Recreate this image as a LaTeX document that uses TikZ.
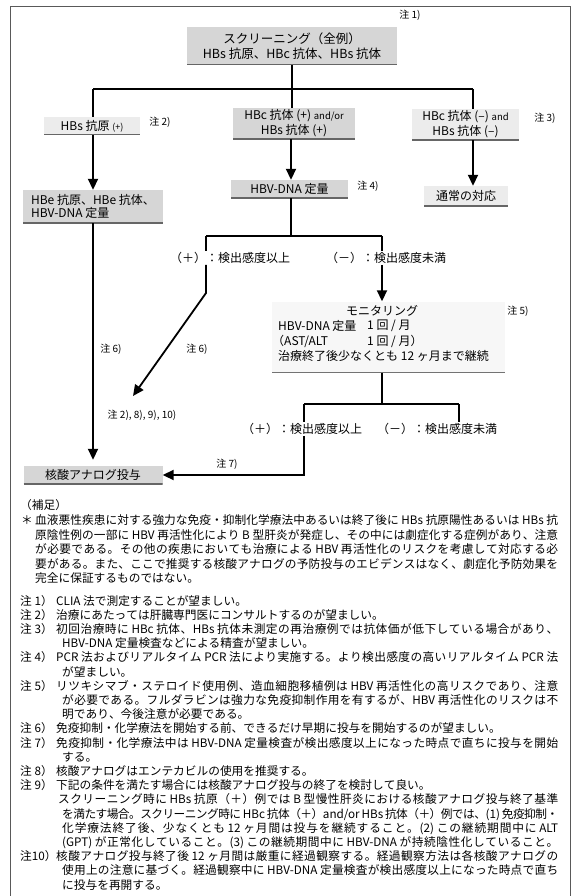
\documentclass[tikz,border=0pt]{standalone}
\usepackage{fontspec}
\setmainfont{Noto Sans CJK JP}
\usetikzlibrary{arrows.meta}
\newcount\cjkc
\def\setcjkclass#1#2{\cjkc=#1 \loop \XeTeXcharclass\cjkc=1 \ifnum\cjkc<#2 \advance\cjkc by 1 \repeat}
\setcjkclass{"3000}{"30FF}
\setcjkclass{"4E00}{"9FFF}
\setcjkclass{"FF00}{"FFEF}
\XeTeXinterchartoks 1 1 = {\hskip 0pt plus 1fil minus .6pt}
\XeTeXinterchartoks 0 1 = {\hskip 0pt plus 1fil minus .3pt}
\XeTeXinterchartoks 1 0 = {\hskip 0pt plus 1fil minus .3pt}
\newcommand\jline[4]{\node[txt, anchor=base west] (#1) at (#2,#3) {\hbox to \dimexpr 558pt-#2pt\relax{#4}};}
\newcommand\fline[4]{\node[txt, anchor=base west] (#1) at (#2,#3) {#4};}
\begin{document}
\begin{tikzpicture}[x=1pt,y=-1pt,
  fb/.style={fill=gray!32, inner sep=2pt, font=\fontsize{12}{15}\selectfont, align=center,
    path picture={\draw[black!60, line width=2.4pt] (path picture bounding box.south west) -- (path picture bounding box.south east);}},
  lb/.style={fb, fill=gray!15},
  ln/.style={line width=1.8pt},
  arr/.style={ln, -{Triangle[width=10pt,length=11pt]}},
  nt/.style={font=\fontsize{10}{12}\selectfont, inner sep=0pt},
  lab/.style={font=\fontsize{12}{15}\selectfont, inner sep=1pt},
  txt/.style={font=\fontsize{11.7}{14}\selectfont, inner sep=0pt,
    execute at begin node={\XeTeXinterchartokenstate=1 }}
]
\useasboundingbox (0,0) rectangle (571,896);
\fill[white] (0,0) rectangle (571,896);
\draw[black!65, line width=1pt] (10,896) -- (10,7) -- (570,7) -- (570,896);

% boxes
\node[fb, minimum width=210pt, minimum height=38pt, font=\fontsize{12.5}{15.5}\selectfont] (top) at (292,46) {スクリーニング（全例）\\HBs 抗原、HBc 抗体、HBs 抗体};
\node[nt] (n1) at (410,15) {注 1)};
\node[lb, minimum width=96pt, minimum height=18pt] (hbsag) at (92,126) {HBs 抗原 {\fontsize{9}{10}\selectfont (+)}};
\node[nt] (n2) at (160,122) {注 2)};
\node[fb, minimum width=122pt, minimum height=29pt] (mid) at (294,123.5) {HBc 抗体 (+) {\fontsize{9.5}{10}\selectfont and/or}\\HBs 抗体 (+)};
\node[lb, minimum width=107pt, minimum height=31pt] (neg) at (465.5,124.5) {HBc 抗体 (–) {\fontsize{9.5}{10}\selectfont and}\\HBs 抗体 (–)};
\node[nt] (n3) at (545,118) {注 3)};
\node[fb, minimum width=140pt, minimum height=33pt, align=left, font=\fontsize{12}{13.5}\selectfont] (hbe) at (93,206.5) {HBe 抗原、HBe 抗体、\\HBV-DNA 定量};
\node[fb, minimum width=117pt, minimum height=18pt] (dna) at (289.5,189) {HBV-DNA 定量};
\node[nt] (n4) at (368,186) {注 4)};
\node[lb, minimum width=84pt, minimum height=20pt] (usual) at (466,196) {通常の対応};
\node[fb, minimum width=139pt, minimum height=18pt] (nuc) at (93,475) {核酸アナログ投与};

% monitoring block
\node[fill=gray!6, minimum width=233pt, minimum height=71pt, inner sep=0pt,
  path picture={\draw[black!55, line width=2pt] (path picture bounding box.south west) -- (path picture bounding box.south east);}] (mon) at (388.5,337) {};
\node[lab] (mtitle) at (382,311) {モニタリング};
\node[lab, anchor=west] (m1a) at (277,326) {HBV-DNA 定量};
\node[lab, anchor=west] (m1b) at (366,326) {1 回 / 月};
\node[lab, anchor=west] (m2a) at (271,341) {（AST/ALT};
\node[lab, anchor=west] (m2b) at (366,341) {1 回 / 月）};
\node[lab, anchor=west] (m3) at (277,356) {治療終了後少なくとも 12 ヶ月まで継続};
\node[nt] (n5) at (518,311) {注 5)};

% branch labels
\node[lab] (pos1) at (230,258) {（＋）：検出感度以上};
\node[lab] (neg1) at (386,258) {（－）：検出感度未満};
\node[lab] (pos2) at (302,429) {（＋）：検出感度以上};
\node[lab] (neg2) at (437,429) {（－）：検出感度未満};
\node[nt] (n6a) at (111,349) {注 6)};
\node[nt] (n6b) at (197,349) {注 6)};
\node[nt] (n2x) at (142,415) {注 2), 8), 9), 10)};
\node[nt] (n7) at (227,464) {注 7)};

% junction coordinates
\coordinate (j0) at (292,89);
\coordinate (j1) at (93,89);
\coordinate (j3) at (473,89);
\coordinate (j4) at (291,236);
\coordinate (j5) at (206,236);
\coordinate (j6) at (382,236);
\coordinate (j7) at (206,293);
\coordinate (t1) at (133,396);
\coordinate (j8) at (382,404);
\coordinate (j9) at (304,404);
\coordinate (j10) at (459,404);
\coordinate (j11) at (304,475);

% connectors
\draw[ln] (top.south -| j0) -- (j0);
\draw[ln] (j1) -- (j3);
\draw[ln] (j1) -- (j1 |- hbsag.north);
\draw[ln] (j0) -- (j0 |- mid.north);
\draw[ln] (j3) -- (j3 |- neg.north);
\draw[arr] (j1 |- hbsag.south) -- (j1 |- hbe.north);
\draw[arr] (mid.south -| j4) -- (dna.north -| j4);
\draw[arr] (j3 |- neg.south) -- (j3 |- usual.north);
\draw[ln] (dna.south -| j4) -- (j4);
\draw[ln] (j5) -- (j6);
\draw[ln] (j5) -- (j5 |- pos1.north);
\draw[ln] (j6) -- (j6 |- neg1.north);
\draw[arr] (j5 |- pos1.south) -- (j7) -- (t1);
\draw[arr] (j6 |- neg1.south) -- (j6 |- mon.north);
\draw[ln] (mon.south -| j8) -- (j8);
\draw[ln] (j9) -- (j10);
\draw[ln] (j9) -- (j9 |- pos2.north);
\draw[ln] (j10) -- (j10 |- neg2.north);
\draw[arr] (j9 |- pos2.south) -- (j11) -- (nuc.east);
\draw[arr, shorten >=6pt] (j1 |- hbe.south) -- (j1 |- nuc.north);

% notes text
\fline{hosoku}{20}{509}{（補足）}
\fline{ast}{21}{524.5}{＊}
\jline{p1}{35}{524.5}{血液悪性疾患に対する強力な免疫・抑制化学療法中あるいは終了後に HBs 抗原陽性あるいは HBs 抗}
\jline{p2}{35}{539}{原陰性例の一部に HBV 再活性化により B 型肝炎が発症し、その中には劇症化する症例があり、注意}
\jline{p3}{35}{553.5}{が必要である。その他の疾患においても治療による HBV 再活性化のリスクを考慮して対応する必}
\jline{p4}{35}{568}{要がある。また、ここで推奨する核酸アナログの予防投与のエビデンスはなく、劇症化予防効果を}
\fline{p5}{35}{582.5}{完全に保証するものではない。}

\fline{l1}{20}{605}{注 1）}
\fline{c1}{56}{605}{CLIA 法で測定することが望ましい。}
\fline{l2}{20}{619.2}{注 2）}
\fline{c2}{56}{619.2}{治療にあたっては肝臓専門医にコンサルトするのが望ましい。}
\fline{l3}{20}{633.4}{注 3）}
\jline{c3}{56}{633.4}{初回治療時に HBc 抗体、HBs 抗体未測定の再治療例では抗体価が低下している場合があり、}
\fline{c3b}{62}{647.6}{HBV-DNA 定量検査などによる精査が望ましい。}
\fline{l4}{20}{661.8}{注 4）}
\jline{c4}{56}{661.8}{PCR 法およびリアルタイム PCR 法により実施する。より検出感度の高いリアルタイム PCR 法}
\fline{c4b}{62}{676}{が望ましい。}
\fline{l5}{20}{690.2}{注 5）}
\jline{c5}{56}{690.2}{リツキシマブ・ステロイド使用例、造血細胞移植例は HBV 再活性化の高リスクであり、注意}
\jline{c5b}{62}{704.4}{が必要である。フルダラビンは強力な免疫抑制作用を有するが、HBV 再活性化のリスクは不}
\fline{c5c}{62}{718.6}{明であり、今後注意が必要である。}
\fline{l6}{20}{732.8}{注 6）}
\fline{c6}{56}{732.8}{免疫抑制・化学療法を開始する前、できるだけ早期に投与を開始するのが望ましい。}
\fline{l7}{20}{747}{注 7）}
\jline{c7}{56}{747}{免疫抑制・化学療法中は HBV-DNA 定量検査が検出感度以上になった時点で直ちに投与を開始}
\fline{c7b}{62}{761.2}{する。}
\fline{l8}{20}{775.4}{注 8）}
\fline{c8}{56}{775.4}{核酸アナログはエンテカビルの使用を推奨する。}
\fline{l9}{20}{789.6}{注 9）}
\fline{c9}{56}{789.6}{下記の条件を満たす場合には核酸アナログ投与の終了を検討して良い。}
\jline{c9b}{58}{803.8}{スクリーニング時に HBs 抗原（＋）例では B 型慢性肝炎における核酸アナログ投与終了基準}
\jline{c9c}{62}{818}{を満たす場合。スクリーニング時に HBc 抗体（＋）and/or HBs 抗体（＋）例では、(1) 免疫抑制・}
\jline{c9d}{62}{832.2}{化学療法終了後、少なくとも 12 ヶ月間は投与を継続すること。(2) この継続期間中に ALT}
\jline{c9e}{62}{846.4}{(GPT) が正常化していること。(3) この継続期間中に HBV-DNA が持続陰性化していること。}
\fline{l10}{20}{860.6}{注10）}
\jline{c10}{56}{860.6}{核酸アナログ投与終了後 12 ヶ月間は厳重に経過観察する。経過観察方法は各核酸アナログの}
\jline{c10b}{62}{874.8}{使用上の注意に基づく。経過観察中に HBV-DNA 定量検査が検出感度以上になった時点で直ち}
\fline{c10c}{62}{889}{に投与を再開する。}
\end{tikzpicture}
\end{document}
